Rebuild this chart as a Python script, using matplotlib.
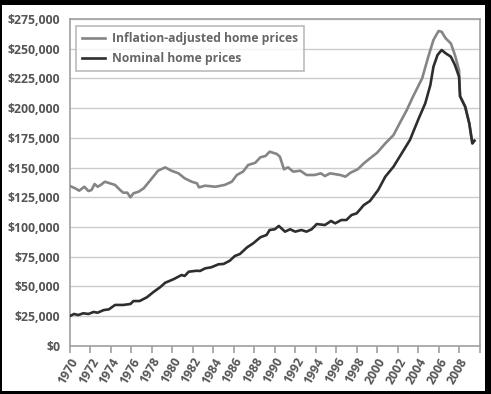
import matplotlib
matplotlib.use("Agg")
import matplotlib.pyplot as plt
from matplotlib.patches import Rectangle
from matplotlib.ticker import FuncFormatter

years_real = [1970.0, 1970.5, 1970.9, 1971.4, 1971.8, 1972.1, 1972.4, 1972.7, 1973.0, 1973.4,
              1973.9, 1974.4, 1974.9, 1975.2, 1975.6, 1975.9, 1976.2, 1976.7, 1977.2, 1978.0,
              1978.6, 1979.3, 1979.9, 1980.6, 1981.2, 1981.9, 1982.4, 1982.6, 1983.2, 1984.2,
              1985.1, 1985.8, 1986.3, 1986.9, 1987.4, 1988.1, 1988.6, 1989.1, 1989.5, 1990.2,
              1990.5, 1990.9, 1991.3, 1991.8, 1992.5, 1993.1, 1993.9, 1994.5, 1994.9, 1995.4,
              1996.4, 1996.9, 1997.4, 1998.1, 1998.7, 1999.3, 2000.0, 2000.8, 2001.6, 2002.2,
              2002.9, 2003.5, 2004.4, 2005.0, 2005.5, 2006.0, 2006.3, 2006.7, 2007.2, 2007.6,
              2008.0, 2008.1, 2008.6, 2009.0, 2009.3, 2009.5]
real_prices = [134400, 132500, 130500, 133800, 130200, 131000, 136100, 133800, 135300, 138000,
               136700, 135300, 131000, 128800, 128800, 124900, 128300, 129600, 132500, 140900,
               147300, 150100, 147300, 145100, 140900, 138000, 136700, 133300, 134700, 133800,
               135300, 138000, 143700, 146500, 152100, 154000, 158600, 159700, 163300, 161400,
               159100, 148500, 150100, 146500, 147300, 143700, 143700, 145100, 142800, 145100,
               143700, 142300, 145600, 148500, 153500, 157700, 162400, 170300, 177300, 187200,
               198400, 209600, 225100, 243300, 257300, 264900, 264300, 258700, 254500, 244700,
               232000, 210000, 201200, 187200, 170300, 172500]

years_nom = [1970.0, 1970.4, 1970.8, 1971.3, 1971.8, 1972.3, 1972.7, 1973.3, 1973.8, 1974.4,
             1975.2, 1975.9, 1976.2, 1976.8, 1977.5, 1978.2, 1978.8, 1979.3, 1980.1, 1980.9,
             1981.2, 1981.6, 1982.4, 1982.7, 1983.2, 1983.8, 1984.5, 1985.0, 1985.6, 1986.1,
             1986.6, 1987.3, 1987.9, 1988.6, 1989.2, 1989.5, 1990.0, 1990.4, 1991.0, 1991.5,
             1992.0, 1992.6, 1993.1, 1993.6, 1994.1, 1994.9, 1995.5, 1995.9, 1996.5, 1997.0,
             1997.5, 1998.0, 1998.7, 1999.3, 2000.1, 2000.8, 2001.6, 2002.4, 2003.2, 2004.0,
             2004.7, 2005.2, 2005.5, 2005.9, 2006.3, 2006.7, 2007.2, 2007.6, 2008.0, 2008.1,
             2008.6, 2009.0, 2009.3, 2009.5]
nominal_prices = [25000, 26700, 25800, 27300, 26700, 28400, 27800, 30000, 30600, 34300,
                  34300, 35100, 37600, 37600, 40700, 45500, 49200, 53000, 55900, 59500,
                  58700, 62300, 63100, 62900, 65100, 66000, 68500, 68800, 71500, 75500,
                  77200, 82800, 86200, 91300, 93200, 97400, 98000, 100800, 96000, 98000,
                  96000, 97400, 96000, 98000, 102400, 101600, 105000, 103000, 105800, 105800,
                  110000, 111400, 118400, 121800, 131000, 142300, 150700, 161900, 173100, 190000,
                  204000, 219400, 234800, 244700, 248900, 246100, 243300, 236300, 226400, 210000,
                  201200, 187200, 170300, 172500]

x_ticks = list(range(1970, 2011, 2))
x_labels = [str(y) for y in range(1970, 2009, 2)] + [""]
y_ticks = list(range(0, 275001, 25000))
series_labels = ["Inflation-adjusted home prices", "Nominal home prices"]

FONT = "Open Sans"
TXT = "#555555"

fig = plt.figure(figsize=(4.91, 3.94), dpi=100)
fig.patch.set_facecolor("black")
bg = Rectangle((2 / 491, 3 / 394), 483 / 491, 386 / 394,
               transform=fig.transFigure, facecolor="white",
               edgecolor="none", zorder=-10)
fig.patches.append(bg)

ax = fig.add_axes([70 / 491, 1 - 345.7 / 394, 409.5 / 491, 326.7 / 394])
ax.set_zorder(1)
ax.set_facecolor("white")

ax.plot(years_real, real_prices, color="#858585", lw=1.9, label=series_labels[0], zorder=3)
ax.plot(years_nom, nominal_prices, color="#2e2e2e", lw=1.9, label=series_labels[1], zorder=4)

ax.set_xlim(1970, 2010)
ax.set_ylim(0, 275000)
ax.set_yticks(y_ticks)
ax.yaxis.set_major_formatter(FuncFormatter(lambda v, p: "${:,.0f}".format(v)))
ax.set_xticks(x_ticks)
ax.set_xticklabels(x_labels, rotation=60, ha="right", rotation_mode="anchor")

ax.grid(axis="y", color="#cccccc", lw=1)
ax.set_axisbelow(True)
for s in ax.spines.values():
    s.set_color("#a0a0a0")
    s.set_linewidth(1.2)

ax.tick_params(axis="y", length=0, pad=7, labelsize=8.8, labelcolor=TXT)
ax.tick_params(axis="x", length=5, width=1.2, color="#a0a0a0", pad=2,
               labelsize=8.8, labelcolor=TXT)
for lab in ax.get_xticklabels() + ax.get_yticklabels():
    lab.set_fontfamily(FONT)
    lab.set_fontweight("bold")

leg = ax.legend(loc="upper left", bbox_to_anchor=(6 / 409.5, 1 - 7 / 326.7),
                frameon=True, fancybox=False, borderaxespad=0, handlelength=1.9,
                handletextpad=0.6, borderpad=0.5, labelspacing=0.6,
                prop={"family": FONT, "weight": "bold", "size": 8.7})
leg.get_frame().set_edgecolor("#aaaaaa")
leg.get_frame().set_linewidth(1.2)
for t in leg.get_texts():
    t.set_color("#666666")

fig.savefig("out.png", dpi=100, facecolor=fig.get_facecolor())
